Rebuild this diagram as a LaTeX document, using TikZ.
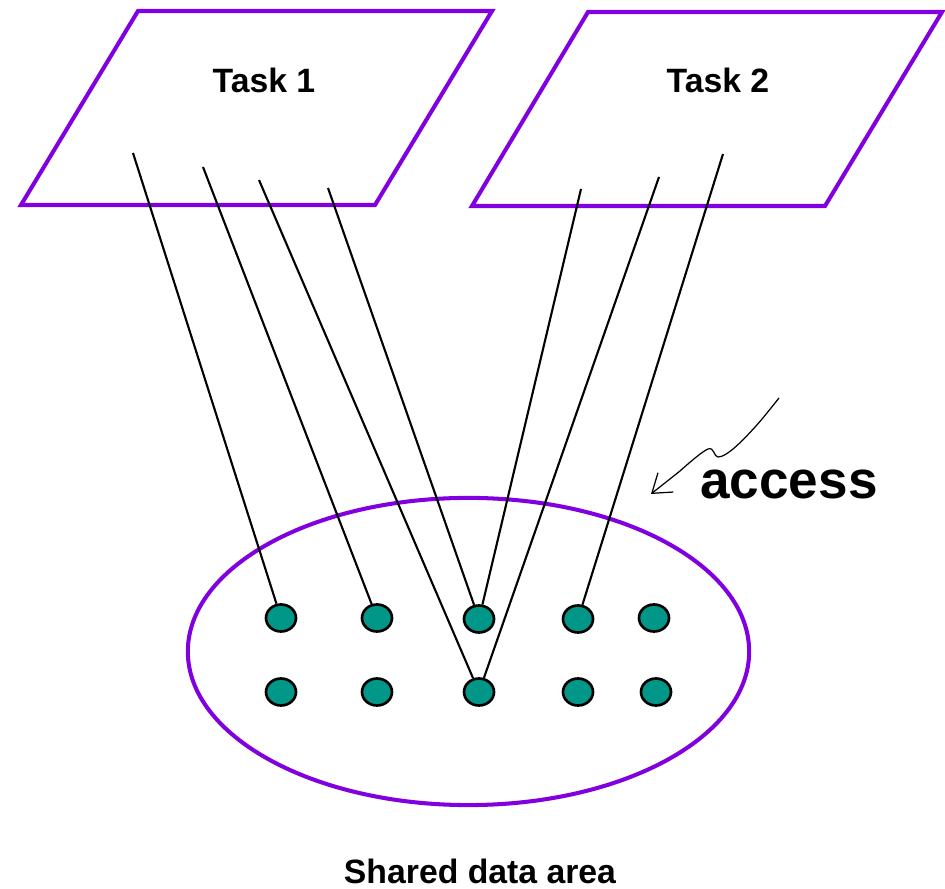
\documentclass[tikz,border=0pt]{standalone}
\usepackage{fontspec}
\setmainfont{Liberation Sans}
\usetikzlibrary{shapes.geometric,arrows.meta}
\definecolor{taskpurple}{RGB}{128,0,224}
\definecolor{datateal}{RGB}{0,150,136}
\tikzset{
  taskframe/.style={draw=taskpurple, line width=1.15pt, line join=miter},
  tasklabel/.style={font=\fontsize{9.6pt}{11pt}\selectfont\bfseries, inner sep=0pt},
  datum/.style={ellipse, draw=black, line width=0.75pt, fill=datateal,
                minimum width=0.30cm, minimum height=0.27cm, inner sep=0pt},
  link/.style={draw=black, line width=0.6pt},
}
\begin{document}
\begin{tikzpicture}[x=0.01cm, y=-0.01cm]
  \useasboundingbox (0,0) rectangle (945,889);

  % task frames
  \draw[taskframe] (138,11) -- (492,11) -- (375,205) -- (21,205) -- cycle;
  \draw[taskframe] (588,12) -- (942,12) -- (825,206) -- (472,206) -- cycle;
  \node[tasklabel] (t1) at (264,80) {Task 1};
  \node[tasklabel] (t2) at (718,80) {Task 2};

  % shared data area
  \node[ellipse, draw=taskpurple, line width=1.15pt, minimum width=5.61cm,
        minimum height=3.07cm, inner sep=0pt] (area) at (468.5,651.5) {};
  \node[font=\fontsize{9.6pt}{12pt}\selectfont\bfseries, inner sep=0pt, anchor=base]
        (arealabel) at (480,884) {Shared data area};

  % data items
  \node[datum] (a1) at (281,618) {};
  \node[datum] (a2) at (377,618) {};
  \node[datum] (a3) at (479,619) {};
  \node[datum] (a4) at (578,619) {};
  \node[datum] (a5) at (654,618) {};
  \node[datum] (b1) at (281,692) {};
  \node[datum] (b2) at (377,692) {};
  \node[datum] (b3) at (479,692) {};
  \node[datum] (b4) at (578,692) {};
  \node[datum] (b5) at (656,692) {};

  % access points inside the tasks
  \coordinate (p1) at (133,153);
  \coordinate (p2) at (203,167);
  \coordinate (p3) at (259,180);
  \coordinate (p4) at (328,188);
  \coordinate (q1) at (581,189);
  \coordinate (q2) at (659,177);
  \coordinate (q3) at (723,154);

  % accesses
  \draw[link] (p1) -- (a1);
  \draw[link] (p2) -- (a2);
  \draw[link] (p3) -- (b3);
  \draw[link] (p4) -- (a3);
  \draw[link] (q1) -- (a3);
  \draw[link] (q2) -- (b3);
  \draw[link] (q3) -- (a4);

  % access label with its hand-drawn pointer
  \node[font=\fontsize{15.1pt}{18pt}\selectfont\bfseries, inner sep=0pt]
        (acc) at (789,484) {access};
  \coordinate (tip) at (651,494);
  \draw[line width=0.35pt, -{Straight Barb[length=5pt,width=7pt]}]
    plot[smooth, tension=0.6] coordinates {(779,398) (756,426) (733,449) (718,457) (708,449) (680,471)} -- (tip);
\end{tikzpicture}
\end{document}
